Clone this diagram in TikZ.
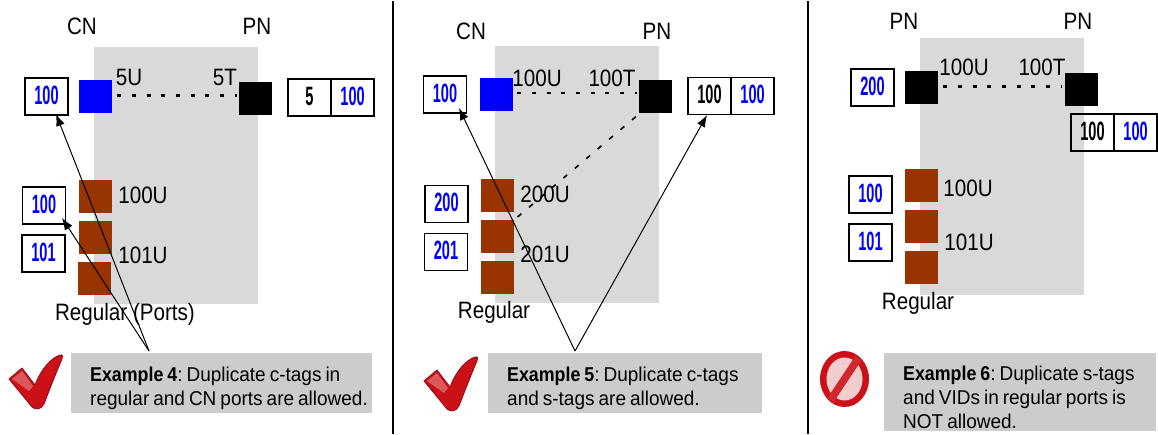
\documentclass[tikz,border=0pt]{standalone}
\usepackage{fontspec}
\setmainfont{Liberation Sans}
\newfontfamily\labelfont[FakeStretch=0.87]{Liberation Sans}
\newfontfamily\tagfont[FakeStretch=0.55]{Liberation Sans}
\newfontfamily\notefont[FakeStretch=0.95,BoldFeatures={FakeStretch=0.89}]{Liberation Sans}
\usetikzlibrary{positioning,arrows.meta}
\definecolor{panelgray}{HTML}{D9D9D9}
\definecolor{notegray}{HTML}{CCCCCC}
\definecolor{regbrown}{HTML}{993300}
\definecolor{tagblue}{HTML}{0000FF}
\definecolor{tickred}{HTML}{CC1018}
\definecolor{stoppink}{HTML}{F2CDCD}
\newcommand{\noteline}{\rule{0pt}{25pt}\frenchspacing\spaceskip=0.2em\relax\hspace*{19pt}}
\newcommand{\notenext}{\spaceskip=0.2em\relax\hspace*{19pt}}

\tikzset{
  tick mark/.pic={
    \fill[tickred,draw=tickred!70!black,line width=0.8pt,line join=round]
      (0,25) -- (13,14) -- (26,31) .. controls (32,15) and (42,4) .. (51,1)
      .. controls (54,0) and (54,3) .. (53,5)
      .. controls (47,19) and (40,37) .. (35,50)
      .. controls (32,56) and (26,56) .. (23,53) -- cycle;
    \fill[white,opacity=0.3] (3,25) -- (13,17) -- (24,32) -- (20,37) -- cycle;
  },
  stop mark/.pic={
    \fill[tickred] (0,0) ellipse [x radius=24.5,y radius=28];
    \fill[stoppink] (0,0) ellipse [x radius=18,y radius=21.5];
    \draw[tickred!90!white,line width=7.5pt] (14,-21) -- (-14,21);
  }
}

\begin{document}
\begin{tikzpicture}[x=1pt,y=-1pt,
    tag box/.style={rectangle,draw=black,line width=1.6pt,minimum width=43pt,minimum height=37pt,
                    inner sep=0pt,text depth=3pt,font=\tagfont\fontsize{26.5}{26.5}\selectfont\bfseries},
    blue tag/.style={tag box,text=tagblue},
    port/.style={rectangle,minimum width=33pt,minimum height=33pt,inner sep=0pt},
    reg port/.style={port,fill=regbrown},
    title node/.style={inner sep=0pt,font=\labelfont\fontsize{23.7}{23.7}\selectfont},
    note box/.style={rectangle,fill=notegray,inner sep=0pt,anchor=north west,
                     font=\notefont\fontsize{20}{24}\selectfont,align=left},
    tag link/.style={line width=2.6pt,dash pattern=on 4pt off 10.7pt},
    cross link/.style={line width=1.6pt,dash pattern=on 5pt off 10pt},
    note arrow/.style={line width=1pt,-{Latex[length=12pt,width=9pt]}}]

  % first panel
  \fill[panelgray] (94,46) rectangle (258,303);
  \node[port,fill=tagblue] (cn1) at (95.5,95.5) {};
  \node[port,fill=black] (pn1) at (255.5,98) {};
  \node[reg port] (reg1a) at (95,196) {};
  \node[reg port] (reg1b) at (95.5,237) {};
  \node[reg port] (reg1c) at (94.5,278) {};
  \node[blue tag] (tag1a) at (46.5,95.5) {100};
  \node[blue tag] (tag1b) at (44,204.5) {100};
  \node[blue tag] (tag1c) at (43.5,252.5) {101};
  \node[tag box] (pair1a) at (309.5,96.5) {5};
  \node[blue tag] (pair1b) [right=-1.5pt of pair1a] {100};
  \node[title node] (cnlab1) at (82,25) {CN};
  \node[title node] (pnlab1) at (257,25) {PN};
  \node[title node] (u1) at (129,76) {5U};
  \node[title node] (t1) at (225,76) {5T};
  \node[title node] (r1a) at (143,194) {100U};
  \node[title node] (r1b) at (143,254) {101U};
  \node[title node] (reglab1) at (125,313) {Regular (Ports)};
  \node[note box,minimum width=301pt,minimum height=60pt,text width=301pt] (note1) at (71,352) {\noteline\textbf{Example 4}: Duplicate c-tags in\\\notenext regular and CN ports are allowed.};
  \draw[tag link] ([yshift=1pt]cn1.east) ++(5,0) -- ([yshift=1pt,xshift=-2pt]cn1.east -| pn1.west);
  \coordinate (from1) at (149,350);
  \coordinate (tip1a) at (56,113);
  \coordinate (tip1b) at (62,217);
  \draw[note arrow] (from1) -- (tip1a);
  \draw[note arrow] (from1) -- (tip1b);
  \pic at (9,353) {tick mark};

  % second panel
  \draw[line width=2pt] (393,0) coordinate (sep1) -- (393,433);
  \fill[panelgray] (495,45) rectangle (659,302);
  \node[port,fill=tagblue] (cn2) at (496.5,93.5) {};
  \node[port,fill=black] (pn2) at (655.5,96) {};
  \node[reg port] (reg2a) at (497.5,194.5) {};
  \node[reg port] (reg2b) at (497.5,235.5) {};
  \node[reg port] (reg2c) at (497,276.5) {};
  \node[blue tag] (tag2a) at (445,93.5) {100};
  \node[blue tag] (tag2b) at (446.5,203) {200};
  \node[blue tag] (tag2c) at (446,251) {201};
  \node[tag box] (pair2a) at (709.5,95) {100};
  \node[blue tag] (pair2b) [right=-1.5pt of pair2a] {100};
  \node[title node] (cnlab2) at (471,30) {CN};
  \node[title node] (pnlab2) at (657,30) {PN};
  \node[title node] (u2) at (537,77) {100U};
  \node[title node] (t2) at (612,77) {100T};
  \node[title node] (r2a) at (545,193) {200U};
  \node[title node] (r2b) at (545,253) {201U};
  \node[title node] (reglab2) at (494,311) {Regular};
  \node[note box,minimum width=274pt,minimum height=60pt,text width=274pt] (note2) at (488,352) {\noteline\textbf{Example 5}: Duplicate c-tags\\\notenext and s-tags are allowed.};
  \draw[tag link] ([yshift=1.5pt]cn2.east) ++(4,0) -- ([yshift=1.5pt,xshift=-2pt]cn2.east -| pn2.west);
  \draw[cross link] (pn2.-135) ++(-3,3) -- (reg2b.north east);
  \coordinate (from2) at (575,350);
  \coordinate (tip2a) at (459,107);
  \coordinate (tip2b) at (707,114);
  \draw[note arrow] (from2) -- (tip2a);
  \draw[note arrow] (from2) -- (tip2b);
  \pic at (424,355) {tick mark};

  % third panel
  \draw[line width=2pt] (808,0) coordinate (sep2) -- (808,433);
  \fill[panelgray] (920,37) rectangle (1084,294);
  \node[port,fill=black] (pn3a) at (921.5,86.5) {};
  \node[port,fill=black] (pn3b) at (1081,89) {};
  \node[reg port] (reg3a) at (921.5,184.5) {};
  \node[reg port] (reg3b) at (921.5,225.5) {};
  \node[reg port] (reg3c) at (921,266.5) {};
  \node[blue tag] (tag3a) at (872.5,86.5) {200};
  \node[blue tag] (tag3b) at (870.5,193.5) {100};
  \node[blue tag] (tag3c) at (870.5,241.5) {101};
  \node[tag box] (pair3a) at (1092.5,131.5) {100};
  \node[blue tag] (pair3b) [right=-1.5pt of pair3a] {100};
  \node[title node] (pnlab3a) at (904,20) {PN};
  \node[title node] (pnlab3b) at (1078,20) {PN};
  \node[title node] (u3) at (964,66) {100U};
  \node[title node] (t3) at (1042,66) {100T};
  \node[title node] (r3a) at (968,187) {100U};
  \node[title node] (r3b) at (969,241) {101U};
  \node[title node] (reglab3) at (918,302) {Regular};
  \node[note box,minimum width=272pt,minimum height=78pt,text width=272pt] (note3) at (884,352) {\noteline\textbf{Example 6}: Duplicate s-tags\\\notenext and VIDs in regular ports is\\\notenext NOT allowed.};
  \draw[tag link] ([yshift=1pt]pn3a.east) ++(5,0) -- ([yshift=1pt,xshift=-2pt]pn3a.east -| pn3b.west);
  \pic at (844.5,378) {stop mark};

  \useasboundingbox (0,0) rectangle (1158,433);
\end{tikzpicture}
\end{document}
